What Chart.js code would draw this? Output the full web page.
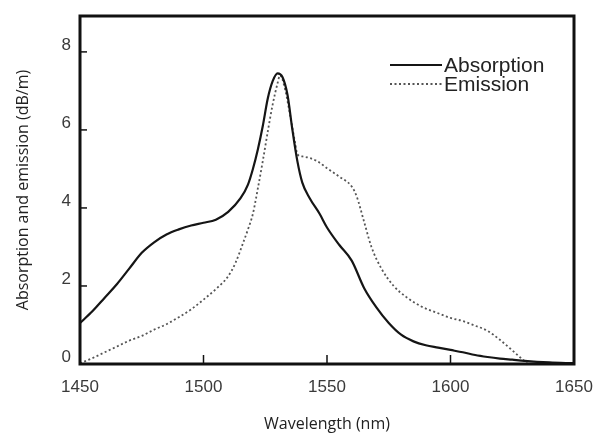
<!DOCTYPE html>
<html>
<head>
<meta charset="utf-8">
<script src="https://cdn.jsdelivr.net/npm/chart.js@4.4.1/dist/chart.umd.min.js"></script>
<style>
  html, body { margin: 0; padding: 0; background: #fff; }
  #wrap { width: 598px; height: 434px; position: relative; }
</style>
</head>
<body>
<div id="wrap"><canvas id="spectrum"></canvas></div>
<script>
// Datos
const absWavelength = [1450, 1455, 1460, 1465, 1470, 1475, 1480, 1485, 1490, 1495, 1500, 1505, 1510, 1515, 1518, 1520, 1522, 1524, 1526, 1528, 1530, 1532, 1534, 1536, 1538, 1540, 1543, 1547, 1550, 1555, 1560, 1565, 1570, 1575, 1580, 1585, 1590, 1595, 1600, 1605, 1610, 1615, 1620, 1625, 1630, 1640, 1650];
const absorption = [1.05, 1.35, 1.7, 2.05, 2.45, 2.85, 3.12, 3.32, 3.45, 3.55, 3.62, 3.7, 3.9, 4.25, 4.6, 5.0, 5.5, 6.1, 6.8, 7.25, 7.45, 7.35, 6.9, 6.0, 5.2, 4.65, 4.25, 3.85, 3.5, 3.05, 2.65, 1.95, 1.45, 1.05, 0.75, 0.58, 0.48, 0.42, 0.36, 0.3, 0.23, 0.18, 0.14, 0.11, 0.08, 0.04, 0.02];

const emWavelength = [1450, 1455, 1460, 1465, 1470, 1475, 1480, 1485, 1490, 1495, 1500, 1505, 1510, 1513, 1516, 1518, 1520, 1522, 1524, 1526, 1528, 1530, 1531, 1533, 1535, 1537, 1538, 1540, 1543, 1546, 1550, 1555, 1560, 1562, 1565, 1568, 1572, 1577, 1582, 1588, 1595, 1600, 1605, 1610, 1615, 1620, 1625, 1628, 1631];
const emission = [0.02, 0.15, 0.3, 0.45, 0.6, 0.72, 0.88, 1.02, 1.2, 1.4, 1.65, 1.92, 2.25, 2.6, 3.1, 3.45, 3.85, 4.5, 5.2, 5.95, 6.65, 7.2, 7.4, 7.05, 6.4, 5.7, 5.38, 5.32, 5.28, 5.2, 5.02, 4.8, 4.55, 4.3, 3.65, 3.0, 2.45, 2.0, 1.72, 1.48, 1.3, 1.18, 1.1, 0.98, 0.85, 0.62, 0.35, 0.18, 0.02];

const xTicks = [1450, 1500, 1550, 1600, 1650];
const yTicks = [0, 2, 4, 6, 8];

const toPoints = (xs, ys) => xs.map((x, i) => ({ x: x, y: ys[i] }));

// Marco, marcas interiores y leyenda dentro del area
const framePlugin = {
    id: 'frame',
    afterDatasetsDraw(chart) {
        const { ctx, chartArea: a, scales } = chart;
        ctx.save();
        ctx.strokeStyle = '#111';
        ctx.lineWidth = 1.5;
        // marcas del eje y hacia dentro
        yTicks.forEach(v => {
            if (v === 0) return;
            const y = scales.y.getPixelForValue(v);
            ctx.beginPath();
            ctx.moveTo(a.left, y);
            ctx.lineTo(a.left + 7, y);
            ctx.stroke();
        });
        // marcas del eje x hacia dentro
        xTicks.forEach(v => {
            if (v === 1450 || v === 1650) return;
            const x = scales.x.getPixelForValue(v);
            ctx.beginPath();
            ctx.moveTo(x, a.bottom);
            ctx.lineTo(x, a.bottom - 9);
            ctx.stroke();
        });
        ctx.lineWidth = 3;
        ctx.strokeRect(a.left, a.top, a.right - a.left, a.bottom - a.top);

        // leyenda
        const x0 = a.right - 184;
        const rows = [a.top + 49, a.top + 68];
        chart.data.datasets.forEach((ds, i) => {
            ctx.strokeStyle = ds.borderColor;
            ctx.lineWidth = ds.borderWidth;
            ctx.setLineDash(ds.borderDash || []);
            ctx.beginPath();
            ctx.moveTo(x0, rows[i]);
            ctx.lineTo(x0 + 52, rows[i]);
            ctx.stroke();
            ctx.setLineDash([]);
            ctx.fillStyle = '#222';
            ctx.font = '21px "Liberation Sans", Arial, sans-serif';
            ctx.textBaseline = 'middle';
            ctx.textAlign = 'left';
            ctx.fillText(ds.label, x0 + 54, rows[i] + 1);
        });
        ctx.restore();
    }
};

new Chart(document.getElementById('spectrum').getContext('2d'), {
    type: 'line',
    data: {
        datasets: [{
            label: 'Absorption',
            data: toPoints(absWavelength, absorption),
            borderColor: '#151515',
            borderWidth: 2.2,
            pointRadius: 0,
            fill: false,
            cubicInterpolationMode: 'monotone'
        }, {
            label: 'Emission',
            data: toPoints(emWavelength, emission),
            borderColor: '#555',
            borderWidth: 1.8,
            borderDash: [2, 2.5],
            pointRadius: 0,
            fill: false,
            cubicInterpolationMode: 'monotone'
        }]
    },
    options: {
        responsive: true,
        maintainAspectRatio: false,
        animation: false,
        layout: { padding: { top: 16, right: 24, left: 0, bottom: 0 } },
        plugins: {
            legend: { display: false },
            tooltip: { enabled: false }
        },
        scales: {
            x: {
                type: 'linear',
                min: 1450,
                max: 1650,
                afterFit: s => { s.height = 70; s.paddingLeft = 0; s.paddingRight = 0; },
                grid: { display: false, drawTicks: false },
                border: { display: false },
                ticks: {
                    stepSize: 50,
                    padding: 13,
                    color: '#3a3a3a',
                    font: { family: '"Liberation Sans", Arial, sans-serif', size: 17 },
                    maxRotation: 0,
                    callback: v => String(v)
                },
                title: {
                    display: true,
                    text: 'Wavelength (nm)',
                    color: '#222',
                    font: { family: '"Open Sans", sans-serif', size: 16 },
                    padding: { top: 0, bottom: 0 }
                }
            },
            y: {
                min: 0,
                max: 8.92,
                afterFit: s => { s.width = 80; s.paddingTop = 0; s.paddingBottom = 0; },
                grid: { display: false, drawTicks: false },
                border: { display: false },
                ticks: {
                    stepSize: 2,
                    includeBounds: false,
                    padding: 9,
                    labelOffset: -7,
                    color: '#3a3a3a',
                    font: { family: '"Liberation Sans", Arial, sans-serif', size: 17 }
                },
                title: {
                    display: true,
                    text: 'Absorption and emission (dB/m)',
                    color: '#222',
                    font: { family: '"Open Sans", sans-serif', size: 16 },
                    padding: { top: 14, bottom: 0 }
                }
            }
        }
    },
    plugins: [framePlugin]
});
</script>
</body>
</html>
